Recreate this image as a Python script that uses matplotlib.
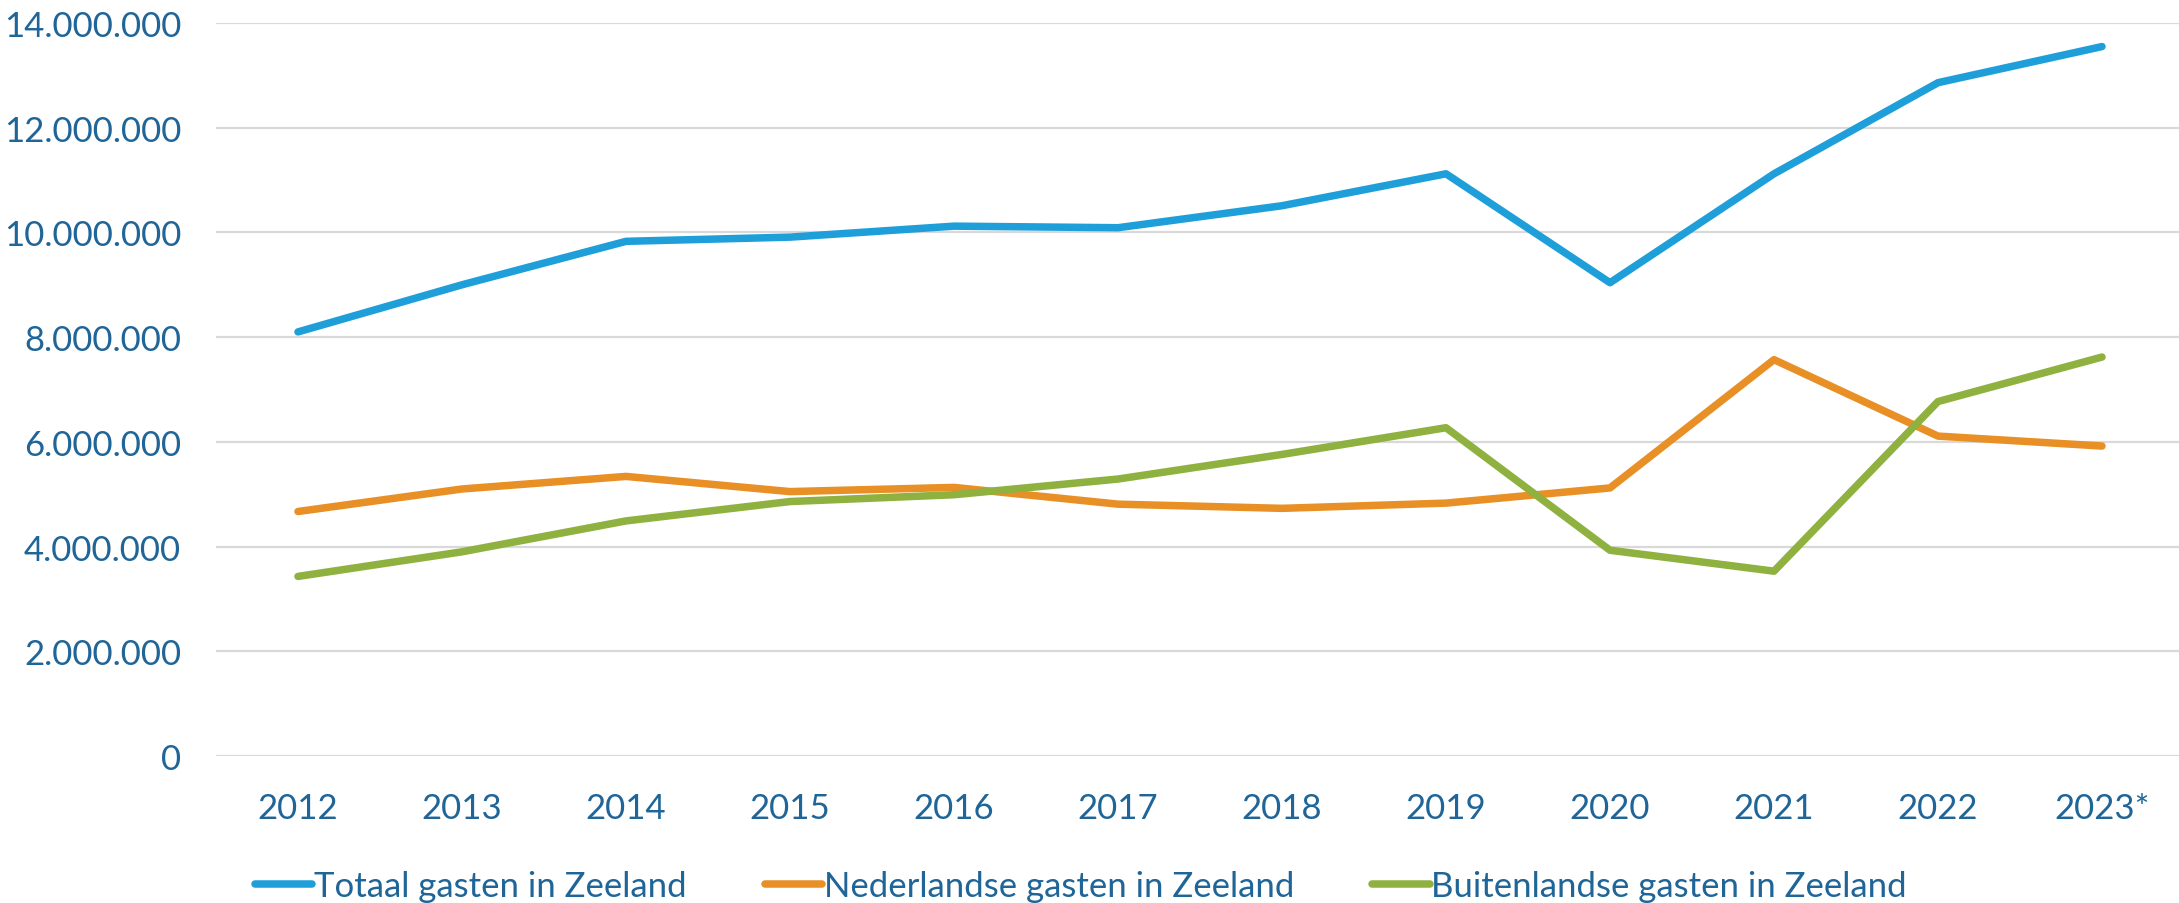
import matplotlib

matplotlib.use("Agg")

import matplotlib.pyplot as plt
from matplotlib.ticker import FuncFormatter

plt.rcParams["font.family"] = ["Lato", "DejaVu Sans"]

years = ["2012", "2013", "2014", "2015", "2016", "2017",
         "2018", "2019", "2020", "2021", "2022", "2023*"]

totaal = [8.10e6, 9.00e6, 9.83e6, 9.91e6, 10.12e6, 10.09e6,
          10.51e6, 11.12e6, 9.04e6, 11.12e6, 12.86e6, 13.55e6]
nederlands = [4.67e6, 5.10e6, 5.34e6, 5.05e6, 5.13e6, 4.81e6,
              4.73e6, 4.83e6, 5.12e6, 7.57e6, 6.11e6, 5.92e6]
buitenlands = [3.43e6, 3.90e6, 4.49e6, 4.86e6, 4.99e6, 5.29e6,
               5.76e6, 6.27e6, 3.93e6, 3.53e6, 6.77e6, 7.62e6]

labels = ["Totaal gasten in Zeeland",
          "Nederlandse gasten in Zeeland",
          "Buitenlandse gasten in Zeeland"]
colors = ["#1E9FD9", "#E88F26", "#8EB13F"]
TEXT = "#1F6598"
FS = 25


def fmt_dots(x, _):
    return f"{int(x):,}".replace(",", ".")


W, H = 2179, 904
fig = plt.figure(figsize=(W / 100, H / 100), dpi=100)
ax = fig.add_axes([216 / W, 1 - 757 / H, (2184 - 216) / W, (757 - 24) / H])

xs = list(range(len(years)))
for series, label, color in zip([totaal, nederlands, buitenlands], labels, colors):
    ax.plot(xs, series, color=color, lw=5.4, label=label,
            solid_capstyle="round", solid_joinstyle="round", zorder=3)

ax.set_xlim(-0.5, len(years) - 0.5)
ax.set_ylim(0, 14e6)
ax.set_yticks([i * 2e6 for i in range(8)])
ax.yaxis.set_major_formatter(FuncFormatter(fmt_dots))
ax.set_xticks(xs)
ax.set_xticklabels(years)

ax.grid(axis="y", color="#D9D9D9", lw=1.6)
ax.set_axisbelow(True)
for s in ax.spines.values():
    s.set_visible(False)
ax.tick_params(axis="both", length=0, labelsize=FS, labelcolor=TEXT)
ax.tick_params(axis="y", pad=25)
ax.tick_params(axis="x", pad=26)

leg = fig.legend(loc="center left", bbox_to_anchor=(255 / W, 17 / H),
                 ncol=3, frameon=False, fontsize=FS, borderpad=0,
                 borderaxespad=0, handlelength=1.65, handletextpad=0.05,
                 columnspacing=2.25)
for t in leg.get_texts():
    t.set_color(TEXT)

fig.savefig("out.png", dpi=100)
